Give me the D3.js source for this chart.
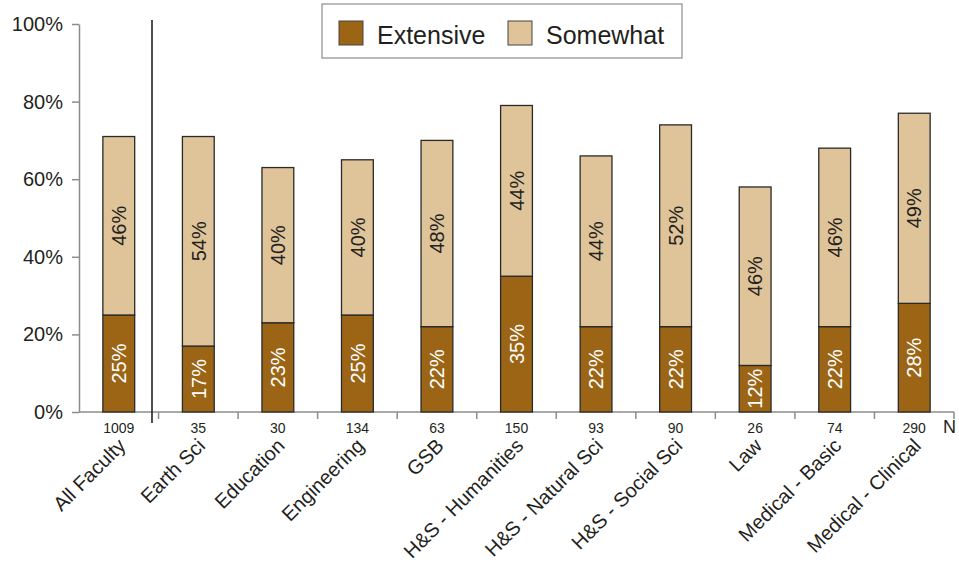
<!DOCTYPE html>
<html>
<head>
<meta charset="utf-8">
<script src="https://cdn.jsdelivr.net/npm/d3@7"></script>
<style>
  html, body { margin: 0; padding: 0; background: #fff; }
  svg { display: block; font-family: "Liberation Sans", Arial, Helvetica, sans-serif; }
</style>
</head>
<body>
<svg id="chart" width="959" height="562"></svg>
<script>
const categories = ["All Faculty", "Earth Sci", "Education", "Engineering", "GSB",
  "H&S - Humanities", "H&S - Natural Sci", "H&S - Social Sci", "Law",
  "Medical - Basic", "Medical - Clinical"];
const counts = [1009, 35, 30, 134, 63, 150, 93, 90, 26, 74, 290];
const extensive = [25, 17, 23, 25, 22, 35, 22, 22, 12, 22, 28];
const somewhat = [46, 54, 40, 40, 48, 44, 44, 52, 46, 46, 49];
const yTicks = [0, 20, 40, 60, 80, 100];
const seriesNames = ["Extensive", "Somewhat"];

const colors = { Extensive: "#9c6516", Somewhat: "#dfc399" };
const ink = "#231f20";
const svg = d3.select("#chart");
const plotLeft = 79, plotRight = 954, plotTop = 24, plotBottom = 412;

const x = d3.scaleBand().domain(categories).range([plotLeft, plotRight]).paddingInner(0.6).paddingOuter(0.3);
const xb = d3.scaleBand().domain(categories).range([plotLeft, plotRight]);
const y = d3.scaleLinear().domain([0, 100]).range([plotBottom, plotTop]);

// y axis
const yAxis = svg.append("g").attr("transform", `translate(${plotLeft},0)`)
  .call(d3.axisLeft(y).tickValues(yTicks).tickFormat(d => d + "%").tickSize(7).tickSizeOuter(0));
yAxis.select(".domain").attr("stroke", "#8c8c8c").attr("stroke-width", 1.5);
yAxis.selectAll(".tick line").attr("stroke", "#8c8c8c").attr("stroke-width", 1.5);
yAxis.selectAll(".tick text").attr("font-size", 20).attr("fill", ink).attr("x", -16)
  .attr("font-family", "Liberation Sans, Arial, sans-serif");

// x axis baseline with ticks at band boundaries
const xAxis = svg.append("g").attr("transform", `translate(0,${plotBottom})`);
xAxis.append("line").attr("x1", plotLeft).attr("x2", plotRight).attr("stroke", "#8c8c8c").attr("stroke-width", 1.5);
xAxis.selectAll("line.tk").data(categories)
  .enter().append("line").attr("class", "tk")
  .attr("x1", d => xb(d) + xb.bandwidth())
  .attr("x2", d => xb(d) + xb.bandwidth())
  .attr("y1", 0).attr("y2", 7).attr("stroke", "#8c8c8c").attr("stroke-width", 1.5);

// stacked bars
const stackData = categories.map((c, i) => ({ cat: c, Extensive: extensive[i], Somewhat: somewhat[i] }));
const stacked = d3.stack().keys(seriesNames)(stackData);

const groups = svg.append("g").selectAll("g").data(stacked).enter().append("g");
groups.selectAll("rect").data(s => s.map(d => ({ key: s.key, d })))
  .enter().append("rect")
  .attr("x", o => x(o.d.data.cat))
  .attr("width", x.bandwidth())
  .attr("y", o => y(o.d[1]))
  .attr("height", o => y(o.d[0]) - y(o.d[1]))
  .attr("fill", o => colors[o.key])
  .attr("stroke", "#2a2a2a").attr("stroke-width", 1.3);

// rotated value labels
groups.selectAll("text").data(s => s.map(d => ({ key: s.key, d })))
  .enter().append("text")
  .attr("transform", o => {
    const cx = x(o.d.data.cat) + x.bandwidth() / 2;
    const cy = (y(o.d[0]) + y(o.d[1])) / 2;
    return `translate(${cx},${cy}) rotate(-90)`;
  })
  .attr("text-anchor", "middle").attr("dy", "0.36em")
  .attr("font-size", 20)
  .attr("fill", o => o.key === "Extensive" ? "#fff" : ink)
  .text(o => (o.d[1] - o.d[0]) + "%");

// separator after the all-faculty bar
svg.append("line").attr("x1", 152).attr("x2", 152).attr("y1", 20).attr("y2", 423)
  .attr("stroke", "#222").attr("stroke-width", 1.6);

// N counts
svg.append("g").selectAll("text").data(categories).enter().append("text")
  .attr("x", d => x(d) + x.bandwidth() / 2).attr("y", 433)
  .attr("text-anchor", "middle").attr("font-size", 14).attr("fill", ink)
  .text((d, i) => counts[i]);
svg.append("text").attr("x", 943).attr("y", 433).attr("font-size", 18).attr("fill", ink).text("N");

// category labels
svg.append("g").selectAll("text").data(categories).enter().append("text")
  .attr("transform", d => `translate(${x(d) + x.bandwidth() / 2 + 8},${447}) rotate(-45)`)
  .attr("text-anchor", "end").attr("font-size", 20).attr("fill", ink)
  .text(d => d);

// legend
const lg = svg.append("g");
lg.append("rect").attr("x", 322).attr("y", 4).attr("width", 360).attr("height", 54)
  .attr("fill", "#fff").attr("stroke", "#8c8c8c").attr("stroke-width", 1.2);
const lx = [339, 508];
seriesNames.forEach((k, i) => {
  lg.append("rect").attr("x", lx[i]).attr("y", 21).attr("width", 24).attr("height", 24)
    .attr("fill", colors[k]).attr("stroke", "#444").attr("stroke-width", 1);
  lg.append("text").attr("x", lx[i] + 38).attr("y", 44).attr("font-size", 25).attr("fill", ink).text(k);
});
</script>
</body>
</html>
